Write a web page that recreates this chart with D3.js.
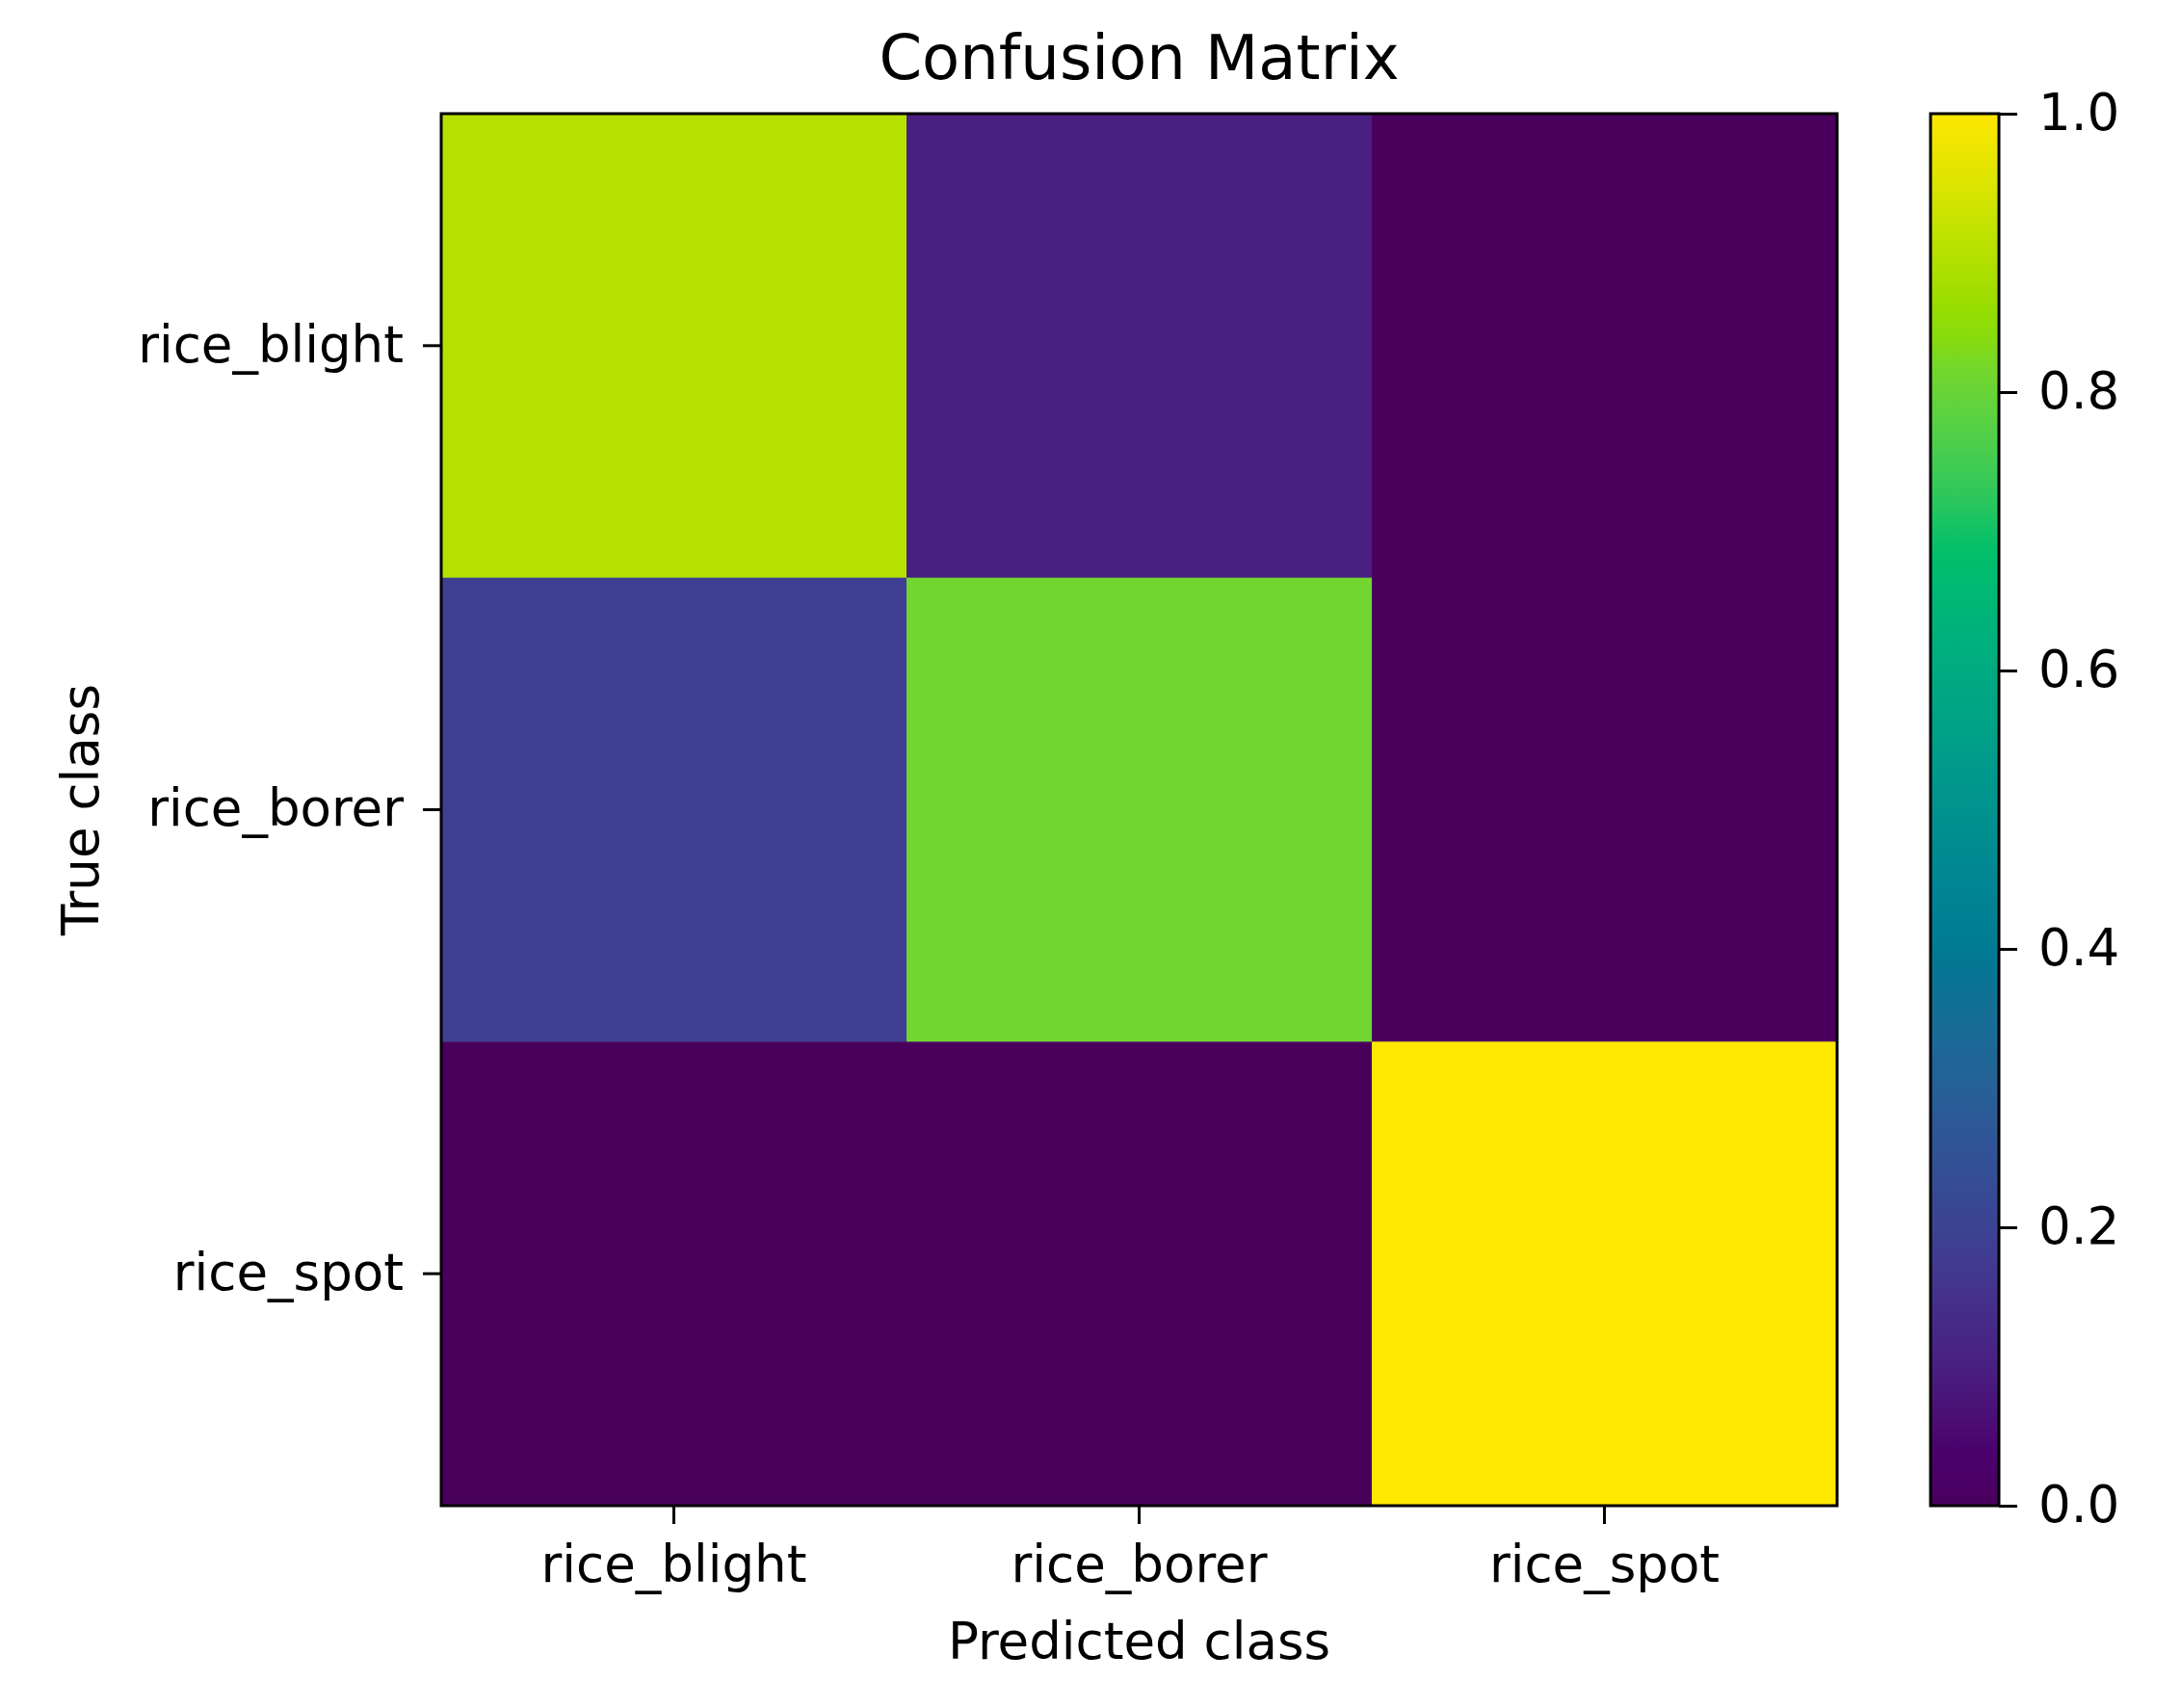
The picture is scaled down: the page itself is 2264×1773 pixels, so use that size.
<!DOCTYPE html>
<html>
<head>
<meta charset="utf-8">
<script src="https://cdn.jsdelivr.net/npm/d3@7"></script>
<style>
  body { margin: 0; background: #fff; }
  text { font-family: "DejaVu Sans", sans-serif; fill: #000; }
</style>
</head>
<body>
<div id="chart"></div>
<script>
// class names (rows = true class, columns = predicted class)
var trueClasses = ["rice_blight", "rice_borer", "rice_spot"];
var predictedClasses = ["rice_blight", "rice_borer", "rice_spot"];

// normalised confusion values, one array per true class
var riceBlightRow = [0.90, 0.10, 0.00];
var riceBorerRow  = [0.19, 0.81, 0.00];
var riceSpotRow   = [0.00, 0.00, 1.00];

var colorbarTicks = [0.0, 0.2, 0.4, 0.6, 0.8, 1.0];

var rows = [riceBlightRow, riceBorerRow, riceSpotRow];

var cells = [];
rows.forEach(function(row, i) {
  row.forEach(function(v, j) {
    cells.push({ t: trueClasses[i], p: predictedClasses[j], value: v });
  });
});

var W = 2264, H = 1773;
var plot = { left: 458, top: 118, right: 1907, bottom: 1563 };
var cbar = { left: 2004, right: 2075 };

// viridis with a little more chroma, like the picture
function cmap(t) {
  var c = d3.hcl(d3.interpolateViridis(t));
  c.c = c.c * 1.18;
  return d3.rgb(c).formatHex();
}

var color = d3.scaleSequential(cmap).domain([0, 1]);

var x = d3.scaleBand()
    .domain(predictedClasses)
    .range([plot.left, plot.right]);

var y = d3.scaleBand()
    .domain(trueClasses)
    .range([plot.top, plot.bottom]);

var cy = d3.scaleLinear()
    .domain([0, 1])
    .range([plot.bottom, plot.top]);

var svg = d3.select("#chart").append("svg")
    .attr("width", W)
    .attr("height", H);

// heatmap cells
svg.append("g")
  .selectAll("rect")
    .data(cells)
  .enter().append("rect")
    .attr("x", function(d) { return x(d.p); })
    .attr("y", function(d) { return y(d.t); })
    .attr("width", x.bandwidth() + 0.5)
    .attr("height", y.bandwidth() + 0.5)
    .attr("fill", function(d) { return color(d.value); });

// frame
svg.append("rect")
    .attr("x", plot.left)
    .attr("y", plot.top)
    .attr("width", plot.right - plot.left)
    .attr("height", plot.bottom - plot.top)
    .attr("fill", "none")
    .attr("stroke", "#000")
    .attr("stroke-width", 3);

var fontSize = 53;

// x axis
var xAxis = svg.append("g")
    .attr("transform", "translate(0," + plot.bottom + ")")
    .call(d3.axisBottom(x).tickSize(19).tickPadding(22).tickSizeOuter(0));
xAxis.select(".domain").remove();
xAxis.selectAll(".tick line").attr("stroke", "#000").attr("stroke-width", 3);
xAxis.selectAll(".tick text")
    .attr("font-size", fontSize)
    .attr("fill", "#000")
    .style("font-family", "DejaVu Sans");

// y axis
var yAxis = svg.append("g")
    .attr("transform", "translate(" + plot.left + ",0)")
    .call(d3.axisLeft(y).tickSize(19).tickPadding(20).tickSizeOuter(0));
yAxis.select(".domain").remove();
yAxis.selectAll(".tick line").attr("stroke", "#000").attr("stroke-width", 3);
yAxis.selectAll(".tick text")
    .attr("font-size", fontSize)
    .attr("fill", "#000")
    .style("font-family", "DejaVu Sans");

// colorbar gradient
var defs = svg.append("defs");
var grad = defs.append("linearGradient")
    .attr("id", "cbgrad")
    .attr("x1", 0).attr("y1", 1)
    .attr("x2", 0).attr("y2", 0);
grad.selectAll("stop")
    .data(d3.range(0, 1.0001, 0.02))
  .enter().append("stop")
    .attr("offset", function(d) { return d; })
    .attr("stop-color", function(d) { return color(d); });

svg.append("rect")
    .attr("x", cbar.left)
    .attr("y", plot.top)
    .attr("width", cbar.right - cbar.left)
    .attr("height", plot.bottom - plot.top)
    .attr("fill", "url(#cbgrad)")
    .attr("stroke", "#000")
    .attr("stroke-width", 3);

var cAxis = svg.append("g")
    .attr("transform", "translate(" + cbar.right + ",0)")
    .call(d3.axisRight(cy).tickValues(colorbarTicks).tickFormat(d3.format(".1f"))
      .tickSize(19).tickPadding(22).tickSizeOuter(0));
cAxis.select(".domain").remove();
cAxis.selectAll(".tick line").attr("stroke", "#000").attr("stroke-width", 3);
cAxis.selectAll(".tick text")
    .attr("font-size", fontSize)
    .attr("fill", "#000")
    .style("font-family", "DejaVu Sans");

// title and axis labels
svg.append("text")
    .attr("x", (plot.left + plot.right) / 2)
    .attr("y", 82)
    .attr("text-anchor", "middle")
    .attr("font-size", 64)
    .text("Confusion Matrix");

svg.append("text")
    .attr("x", (plot.left + plot.right) / 2)
    .attr("y", 1722)
    .attr("text-anchor", "middle")
    .attr("font-size", fontSize)
    .text("Predicted class");

svg.append("text")
    .attr("transform", "translate(102," + ((plot.top + plot.bottom) / 2) + ") rotate(-90)")
    .attr("text-anchor", "middle")
    .attr("font-size", fontSize)
    .text("True class");
</script>
</body>
</html>
